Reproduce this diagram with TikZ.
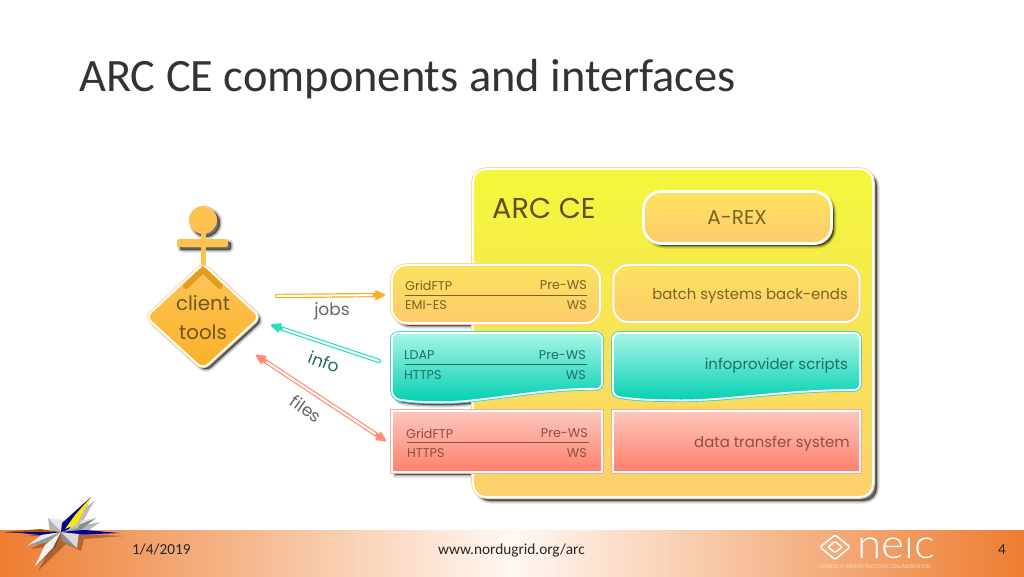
\documentclass[tikz,border=0pt]{standalone}
\usepackage{graphicx}
\usepackage{fontspec}
\setmainfont{Carlito}
\newfontfamily\geo{Poppins}
\newfontfamily\thinfont{Lato Light}
\usetikzlibrary{shapes.geometric,arrows.meta}
\definecolor{yelTop}{HTML}{F2F83A}
\definecolor{yelBot}{HTML}{FDD06E}
\definecolor{boxTop}{HTML}{FBE35E}
\definecolor{boxBot}{HTML}{FDCB6C}
\definecolor{tealTop}{HTML}{A8F5E6}
\definecolor{tealBot}{HTML}{00D0B0}
\definecolor{tealRim}{HTML}{3FD8C0}
\definecolor{redTop}{HTML}{FBC8BC}
\definecolor{redBot}{HTML}{FF7F6C}
\definecolor{redRim}{HTML}{FFA898}
\definecolor{orangeRim}{HTML}{FCD890}
\definecolor{brownText}{HTML}{7A6224}
\definecolor{tealText}{HTML}{1F6E66}
\definecolor{redText}{HTML}{8E4E46}
\definecolor{band}{HTML}{ED7D31}
\definecolor{bandLight}{HTML}{FFF8F2}
\definecolor{personFill}{HTML}{FCC14E}
\definecolor{arrowOrange}{HTML}{FBB024}
\definecolor{arrowTeal}{HTML}{2FDDBE}
\definecolor{arrowRed}{HTML}{FF8C78}
\tikzset{
  softshadow/.style={
    preaction={draw=black,fill=black,line width=5,opacity=.12,transform canvas={shift={(#1,#1)}}},
    preaction={draw=black,fill=black,line width=2.5,opacity=.20,transform canvas={shift={(#1,#1)}}},
    preaction={fill=black,opacity=.35,transform canvas={shift={(#1,#1)}}}},
  softshadow/.default=3,
  panel/.style={draw=white,line width=1.8,preaction={draw=#1,line width=3.6}},
  orangepanel/.style={panel=orangeRim,top color=boxTop,bottom color=boxBot,rounded corners=15,inner sep=0},
  redpanel/.style={panel=redRim,top color=redTop,bottom color=redBot,inner sep=0},
  tealpanel/.style={panel=tealRim,top color=tealTop,bottom color=tealBot,line join=round},
  lab/.style={font=\geo\fontsize{12.7}{15}\selectfont,inner sep=0,text=#1},
  big/.style={font=\geo\fontsize{14.9}{17}\selectfont,inner sep=0,text=#1},
  rule/.style={line width=.7,draw=#1},
  flow/.style={line width=4.4,draw=#1,line cap=round,
    arrows={-{Stealth[length=14,width=13,round]}},
    postaction={draw=white,line width=2,shorten >=13,arrows=-}},
  flowboth/.style={line width=4.4,draw=#1,line cap=round,
    arrows={{Stealth[length=14,width=13,round]}-{Stealth[length=14,width=13,round]}},
    postaction={draw=white,line width=2,shorten >=13,shorten <=13,arrows=-}},
  foot/.style={font=\fontsize{15.3}{18}\selectfont,text=black!85,inner sep=0},
}
\begin{document}
\begin{tikzpicture}[x=1pt,y=-1pt]
\useasboundingbox (0,0) rectangle (1024,576);
\fill[white] (0,0) rectangle (1024,576);
% footer band
\path[left color=band,right color=bandLight] (0,530) rectangle (512,576);
\path[left color=bandLight,right color=band] (512,530) rectangle (1024,576);
% title
\node[anchor=base west,inner sep=0,font=\fontsize{46.4}{50}\selectfont,text=black!80] (title) at (79,91) {ARC CE components and interfaces};
% shadows of the parts that stand out of the main box
\path[softshadow,rounded corners=15] (392,265) rectangle (600,323);
\path[softshadow,rounded corners=6] (392,333) -- (602,333) -- (602,389) .. controls (540,388) and (480,403) .. (433,402) .. controls (415,402) and (400,400) .. (392,397) -- cycle;
\path[softshadow] (392,411) rectangle (602,472);
% main box
\path[softshadow=4,rounded corners=13] (473,169) rectangle (873,497);
\node[panel=orangeRim,top color=yelTop,bottom color=yelBot,rounded corners=13,minimum width=400,minimum height=328,inner sep=0] (main) at (673,333) {};
\node[anchor=west,inner sep=0,font=\geo\fontsize{28.7}{32}\selectfont,text=brownText!80!black] (arcce) at (492,208.5) {ARC CE};
% A-REX
\path[softshadow=3,rounded corners=17] (644,192) rectangle (831,243);
\node[orangepanel,rounded corners=17,panel=white,minimum width=187,minimum height=51] (arex) at (737.5,217.5) {};
\node[lab=brownText,font=\geo\fontsize{20}{23}\selectfont] (arext) at (737,218) {A-REX};
% orange row
\node[orangepanel,minimum width=208,minimum height=58] (jobsbox) at (496,294) {};
\node[orangepanel,minimum width=246,minimum height=57] (batch) at (736.5,293.5) {};
\node[big=brownText,anchor=east] (batcht) at (848,295.5) {batch systems back-ends};
% teal row
\path[tealpanel,rounded corners=6] (392,333) -- (602,333) -- (602,389) .. controls (540,388) and (480,403) .. (433,402) .. controls (415,402) and (400,400) .. (392,397) -- cycle;
\path[tealpanel,rounded corners=6] (613,333) -- (860,333) -- (860,390) .. controls (780,390) and (720,402) .. (665,400) .. controls (640,400) and (625,398) .. (613,396) -- cycle;
\node[big=tealText,anchor=east] (infot) at (848,365.5) {infoprovider scripts};
% red row
\node[redpanel,minimum width=210,minimum height=61] (filesbox) at (497,441.5) {};
\node[redpanel,minimum width=247,minimum height=61] (dts) at (736.5,441.5) {};
\node[big=redText,anchor=east] (dtst) at (850,443.5) {data transfer system};
% protocol labels
\node[lab=brownText,anchor=west] (p1) at (405,285.5) {GridFTP};
\node[lab=brownText,anchor=east] (p2) at (587,285.5) {Pre-WS};
\node[lab=brownText,anchor=west] (p3) at (405,305.5) {EMI-ES};
\node[lab=brownText,anchor=east] (p4) at (587,305.5) {WS};
\coordinate (r1a) at (405,295);
\coordinate (r1b) at (587,295);
\draw[rule=brownText] (r1a) -- (r1b);
\node[lab=tealText,anchor=west] (q1) at (404,355.5) {LDAP};
\node[lab=tealText,anchor=east] (q2) at (586,355.5) {Pre-WS};
\node[lab=tealText,anchor=west] (q3) at (404,375.5) {HTTPS};
\node[lab=tealText,anchor=east] (q4) at (586,375.5) {WS};
\coordinate (r2a) at (405,364.5);
\coordinate (r2b) at (587,364.5);
\draw[rule=tealText] (r2a) -- (r2b);
\node[lab=redText,anchor=west] (s1) at (406,433.5) {GridFTP};
\node[lab=redText,anchor=east] (s2) at (588,433.5) {Pre-WS};
\node[lab=redText,anchor=west] (s3) at (407,453.5) {HTTPS};
\node[lab=redText,anchor=east] (s4) at (587,453.5) {WS};
\coordinate (r3a) at (407,442.5);
\coordinate (r3b) at (589,442.5);
\draw[rule=redText] (r3a) -- (r3b);
% actor
\path[softshadow=3] (203,220) circle (14);
\path[softshadow=3,rounded corners=2] (177,239) rectangle (228,247);
\fill[personFill] (203,220) circle (14);
\fill[personFill,rounded corners=2] (177,239) rectangle (228,247);
\fill[personFill] (200.5,232) rectangle (205.5,270);
\path[softshadow=3,rounded corners=7] (203,264) -- (260,317) -- (203,369) -- (146,317) -- cycle;
\path[panel=orangeRim,top color=boxBot!50!personFill,bottom color=arrowOrange,rounded corners=7] (203,264) -- (260,317) -- (203,369) -- (146,317) -- cycle;
\draw[arrowOrange!90!black,line width=6,line cap=round] (186,286) -- (203,270) -- (220,286);
\node[align=center,inner sep=0,font=\geo\fontsize{19.8}{29}\selectfont,text=brownText!90!black] (client) at (203,317.5) {client\\tools};
% connectors
\coordinate (jobsA) at (277,296);
\coordinate (jobsB) at (385,295);
\coordinate (infoA) at (379,361);
\coordinate (infoB) at (271,325);
\coordinate (filesA) at (256,355);
\coordinate (filesB) at (386,441);
\draw[flow=arrowOrange] (jobsA) -- (jobsB);
\draw[flow=arrowTeal] (infoA) -- (infoB);
\draw[flowboth=arrowRed] (filesA) -- (filesB);
\node[inner sep=0,font=\geo\fontsize{17}{20}\selectfont,text=black!60] (jobs) at (332,311.5) {jobs};
\node[inner sep=0,rotate=-20,font=\geo\fontsize{17}{20}\selectfont,text=tealText] (info) at (324,362) {info};
\node[inner sep=0,rotate=-35,font=\geo\fontsize{17}{20}\selectfont,text=black!60] (files) at (306,409) {files};
% star logo: shadow, short blades, long blades
\fill[black,opacity=.28] (95,500) -- (80,526) -- (100,522) -- (84,534) -- (124,536) -- (84,539) -- (81,551) -- (66,544) -- (38,571) -- (52,546) -- (31,549) -- (54,536) -- (24,536) -- (54,533) -- (52,521) -- (66,524) -- cycle;
\fill[black!10] (61,532) -- (48,518) -- (65,520) -- cycle;
\fill[black!30] (61,532) -- (48,518) -- (50,532) -- cycle;
\fill[black!12] (61,532) -- (96,518) -- (72,522) -- cycle;
\fill[black!45] (61,532) -- (96,518) -- (78,532) -- cycle;
\fill[black!8] (61,532) -- (27,546) -- (48,530) -- cycle;
\fill[black!40] (61,532) -- (27,546) -- (56,541) -- cycle;
\fill[black!45] (61,532) -- (77,548) -- (62,541) -- cycle;
\fill[black!15] (61,532) -- (77,548) -- (79,532) -- cycle;
\fill[blue!55!black] (61,532) -- (62,523) -- (91,497) -- (69,529) -- cycle;
\fill[yellow!90!orange] (65,529) -- (75,515) -- (91,497) -- (77,524) -- cycle;
\fill[black!25] (66,531) -- (77,524) -- (91,497) -- (78,528) -- cycle;
\fill[blue!60!black] (61,532) -- (84,530) -- (120,533) -- (84,534.5) -- cycle;
\fill[orange!65!black] (61,532) -- (40,529) -- (20,533) -- cycle;
\fill[orange!65!black] (40,529) -- (5,532) -- (20,533) -- cycle;
\fill[blue!60!black] (61,532) -- (40,535) -- (20,533) -- (5,532.5) -- (40,532) -- cycle;
\fill[black!6] (61,532) -- (45,545) -- (34,568) -- (53,548) -- cycle;
\fill[orange!55!black] (61,532) -- (53,548) -- (34,568) -- (56,546) -- cycle;
% footer text
\node[foot,anchor=base west] (date) at (132,554.5) {1/4/2019};
\node[foot,anchor=base] (url) at (511.5,554.5) {www.nordugrid.org/arc};
\node[foot,anchor=base] (page) at (1002,554.5) {4};
% NEIC logo
\draw[white,line width=1.5,rounded corners=1.5] (820,547) -- (835,535) -- (850,547) -- (835,559.5) -- cycle;
\draw[white,line width=1.5,rounded corners=1] (828,547) -- (835,541.5) -- (842,547) -- (835,552.5) -- cycle;
\node[inner sep=0,anchor=base west,text=white] (neic) at (857,558) {\scalebox{1.19}[1.1]{\thinfont\fontsize{37}{40}\selectfont ne\char"0131 c}};
\node[inner sep=0,anchor=base west,font=\fontsize{5.9}{6}\selectfont,text=white!70!band] (neicsub) at (820,568.5) {NORDIC E-INFRASTRUCTURE COLLABORATION};
\end{tikzpicture}
\end{document}
